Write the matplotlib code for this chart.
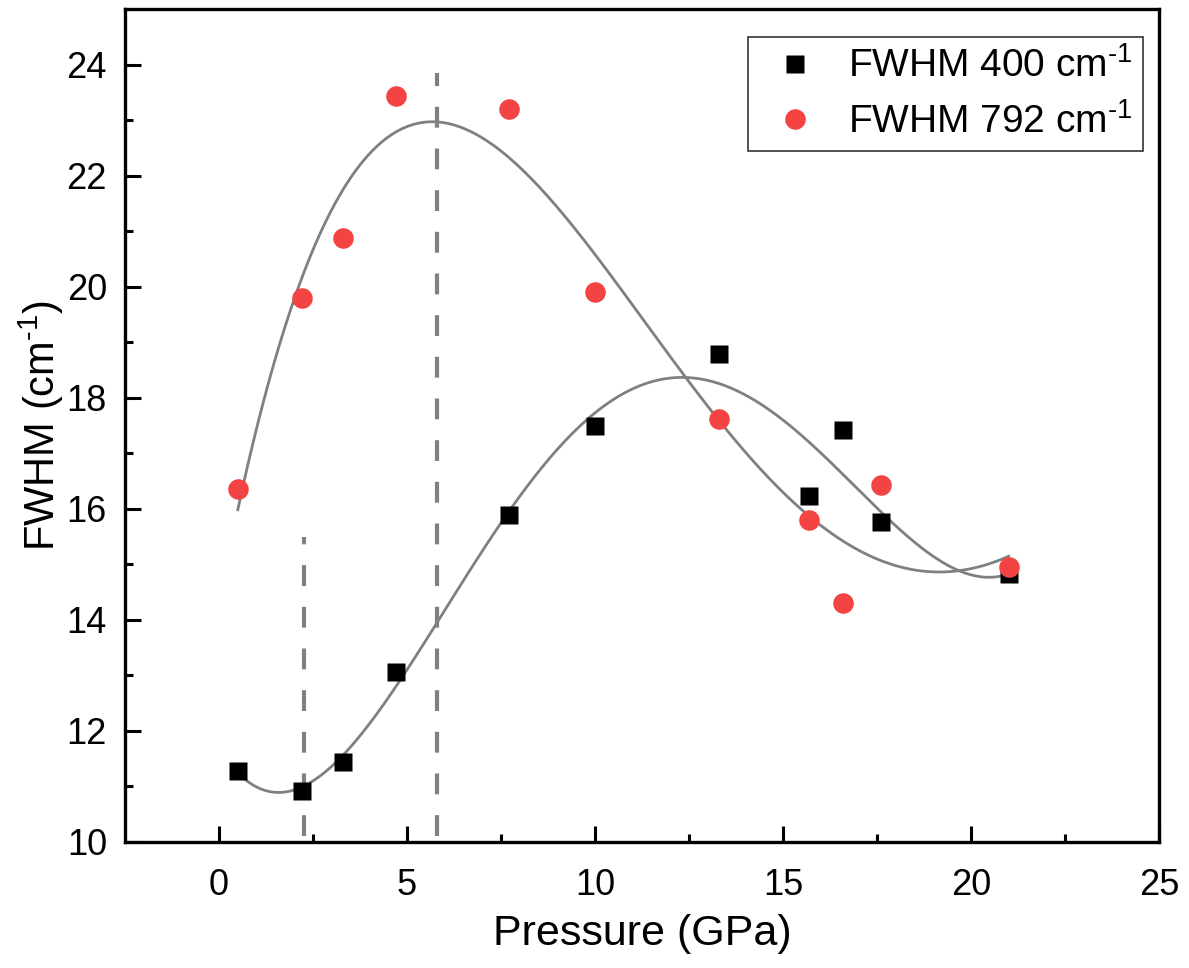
import numpy as np
import matplotlib
matplotlib.use("Agg")
import matplotlib.pyplot as plt

plt.rcParams['font.family'] = ['Liberation Sans', 'DejaVu Sans']
plt.rcParams['mathtext.fontset'] = 'custom'
plt.rcParams['mathtext.rm'] = 'Liberation Sans'
plt.rcParams['mathtext.default'] = 'regular'

# ---- data
pressure = [0.5, 2.2, 3.3, 4.7, 7.7, 10.0, 13.3, 15.7, 16.6, 17.6, 21.0]
fwhm_400 = [11.28, 10.92, 11.44, 13.06, 15.88, 17.49, 18.78, 16.23, 17.42, 15.77, 14.83]
fwhm_792 = [16.36, 19.79, 20.88, 23.44, 23.20, 19.91, 17.62, 15.79, 14.30, 16.42, 14.95]

# transition markers (x, top of dashed line)
guide_x = [2.25, 5.8]
guide_top = [15.5, 23.85]
guide_bottom = 10.1

fit_order = 4
curve_color = '#808080'
red = '#F44343'

fig, ax = plt.subplots(figsize=(11.89, 9.68), dpi=100)
fig.subplots_adjust(left=0.1051, right=0.9748, bottom=0.1302, top=0.9907)

# polynomial fits, as in the original
xs = np.linspace(min(pressure), max(pressure), 300)
for ys in (fwhm_400, fwhm_792):
    coef = np.polyfit(pressure, ys, fit_order)
    ax.plot(xs, np.polyval(coef, xs), color=curve_color, lw=2.0, zorder=2)

for gx, gt in zip(guide_x, guide_top):
    ax.plot([gx, gx], [guide_bottom, gt], color=curve_color, lw=3.0,
            dashes=(5, 5), zorder=1)

ax.plot(pressure, fwhm_400, 's', color='black', ms=13, mec='none',
        label='FWHM 400 cm$^{\\text{-}1}$', zorder=3)
ax.plot(pressure, fwhm_792, 'o', color=red, ms=14.8, mec='none',
        label='FWHM 792 cm$^{\\text{-}1}$', zorder=3)

ax.set_xlim(-2.5, 25)
ax.set_ylim(10, 25)
ax.set_xticks([0, 5, 10, 15, 20, 25])
ax.set_xticks([2.5, 7.5, 12.5, 17.5, 22.5], minor=True)
ax.set_yticks([10, 12, 14, 16, 18, 20, 22, 24])
ax.set_yticks([11, 13, 15, 17, 19, 21, 23], minor=True)

ax.tick_params(which='both', direction='in', top=False, right=False, width=2.2)
ax.tick_params(which='major', length=11.5, labelsize=26)
ax.tick_params(axis='x', which='major', pad=19)
ax.tick_params(axis='y', which='major', pad=13)
ax.tick_params(which='minor', length=5.8)
for s in ax.spines.values():
    s.set_linewidth(2.4)

ax.set_xlabel('Pressure (GPa)', fontsize=31, labelpad=8)
ax.set_ylabel('FWHM (cm$^{\\text{-}1}$)', fontsize=30, labelpad=0)

leg = ax.legend(loc='upper right', bbox_to_anchor=(0.9845, 0.9664),
                borderaxespad=0, fontsize=28, frameon=True, fancybox=False,
                borderpad=0.27, handlelength=1.85, handletextpad=0.45,
                labelspacing=0.45)
leg.get_frame().set_edgecolor('black')
leg.get_frame().set_linewidth(1.2)

fig.savefig('out.png', dpi=100)
